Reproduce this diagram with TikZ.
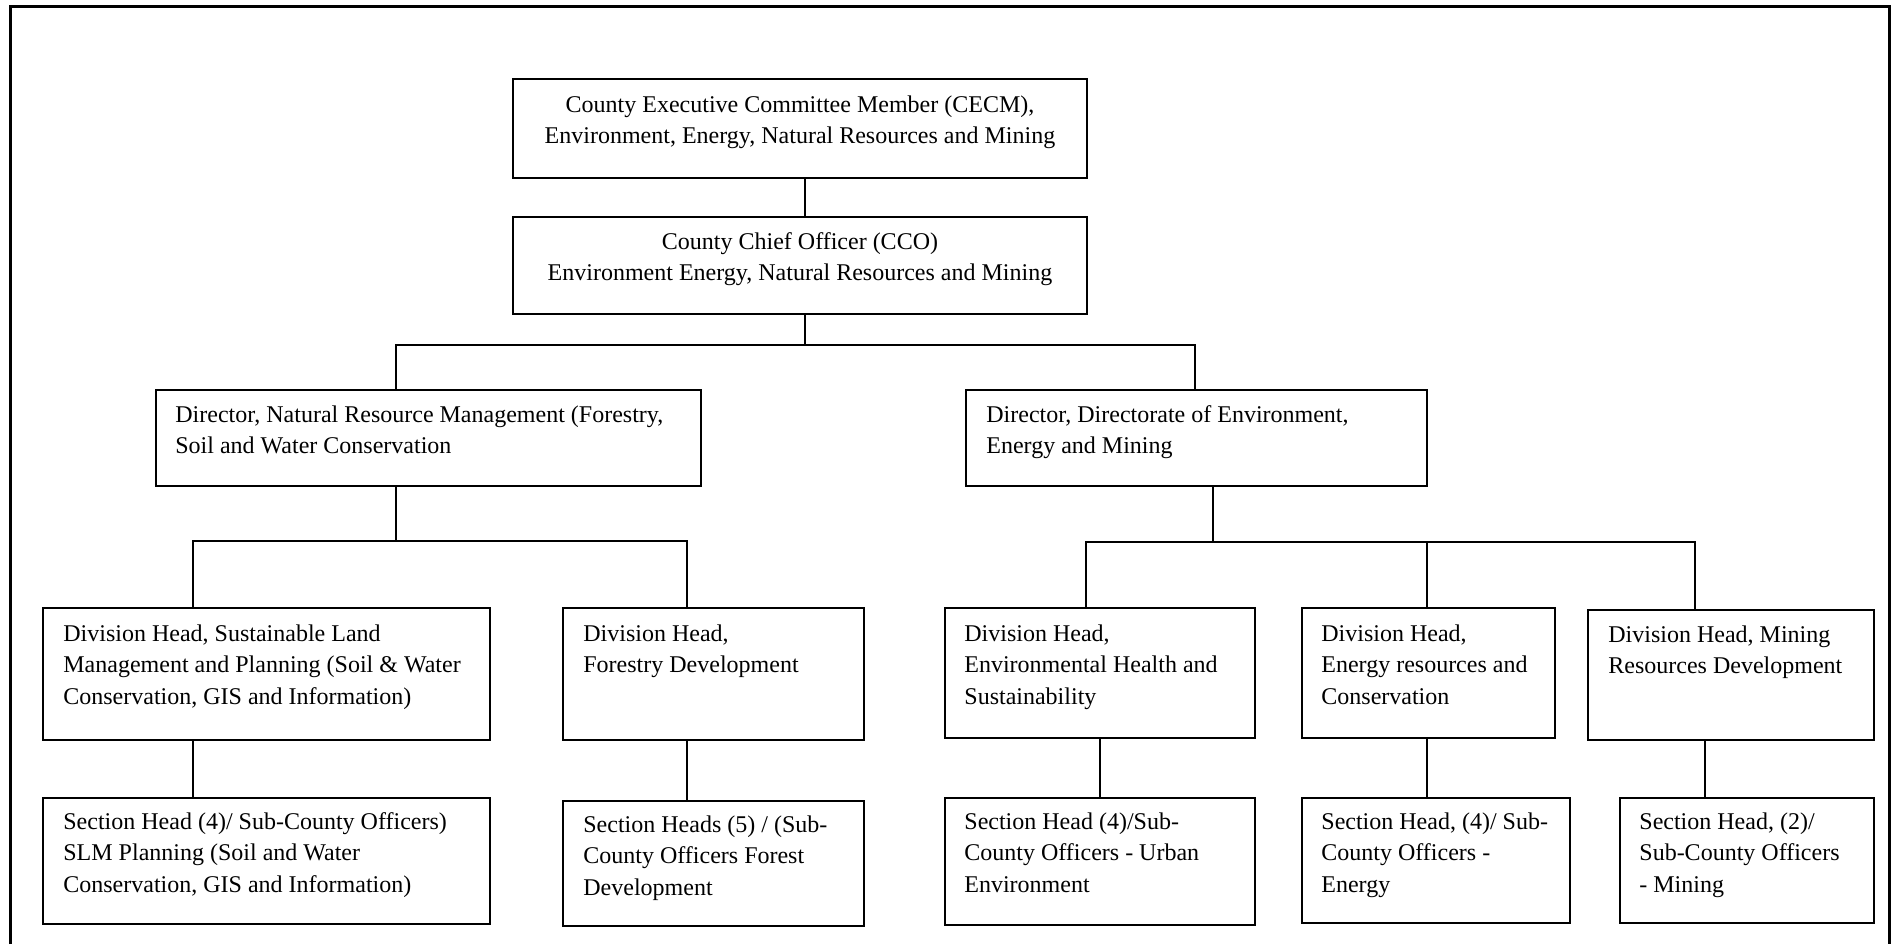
\documentclass[tikz,border=0pt]{standalone}
\usepackage{fontspec}
\setmainfont{Liberation Serif}
\usetikzlibrary{fit,calc}
\begin{document}
\begin{tikzpicture}[x=0.5pt,y=-0.5pt,
  bx/.style={draw, line width=1pt, inner sep=0pt, rectangle},
  conn/.style={line width=0.75pt},
  txt/.style={inner sep=0pt, font=\fontsize{12}{15.75}\selectfont},
  frame/.style={line width=1.5pt}]
\useasboundingbox (0,0) rectangle (1892,944);
% outer frame
\draw[frame] (10.5,944) -- (10.5,6.5) -- (1889.5,6.5) -- (1889.5,944);

% boxes
\node[bx, fit={(513,79) (1087,178)}] (cecm) {};
\node[bx, fit={(513,217) (1087,314)}] (cco) {};
\node[bx, fit={(156,390) (701,486)}] (nrm) {};
\node[bx, fit={(966,390) (1427,486)}] (envd) {};
\node[bx, fit={(43,608) (490,740)}] (slmd) {};
\node[bx, fit={(563,608) (864,740)}] (ford) {};
\node[bx, fit={(945,608) (1255,738)}] (ehd) {};
\node[bx, fit={(1302,608) (1555,738)}] (end) {};
\node[bx, fit={(1588,610) (1874,740)}] (mind) {};
\node[bx, fit={(43,798) (490,924)}] (slms) {};
\node[bx, fit={(563,801) (864,926)}] (fors) {};
\node[bx, fit={(945,798) (1255,925)}] (envs) {};
\node[bx, fit={(1302,798) (1570,923)}] (ens) {};
\node[bx, fit={(1620,798) (1874,923)}] (mins) {};

% texts
\node[txt, anchor=base] (cecm-t) at ($(cecm.north)+(0,34)$)
  {\begin{tabular}[t]{@{}c@{}}County Executive Committee Member (CECM),\\Environment, Energy, Natural Resources and Mining\end{tabular}};
\node[txt, anchor=base] (cco-t) at ($(cco.north)+(0,33)$)
  {\begin{tabular}[t]{@{}c@{}}County Chief Officer (CCO)\\Environment Energy, Natural Resources and Mining\end{tabular}};
\node[txt, anchor=base west] (nrm-t) at ($(nrm.north west)+(20,33)$)
  {\begin{tabular}[t]{@{}l@{}}Director, Natural Resource Management (Forestry,\\Soil and Water Conservation\end{tabular}};
\node[txt, anchor=base west] (envd-t) at ($(envd.north west)+(21,33)$)
  {\begin{tabular}[t]{@{}l@{}}Director, Directorate of Environment,\\Energy and Mining\end{tabular}};
\node[txt, anchor=base west] (slmd-t) at ($(slmd.north west)+(21,34)$)
  {\begin{tabular}[t]{@{}l@{}}Division Head, Sustainable Land\\Management and Planning (Soil \& Water\\Conservation, GIS and Information)\end{tabular}};
\node[txt, anchor=base west] (ford-t) at ($(ford.north west)+(21,34)$)
  {\begin{tabular}[t]{@{}l@{}}Division Head,\\Forestry Development\end{tabular}};
\node[txt, anchor=base west] (ehd-t) at ($(ehd.north west)+(20,34)$)
  {\begin{tabular}[t]{@{}l@{}}Division Head,\\Environmental Health and\\Sustainability\end{tabular}};
\node[txt, anchor=base west] (end-t) at ($(end.north west)+(20,34)$)
  {\begin{tabular}[t]{@{}l@{}}Division Head,\\Energy resources and\\Conservation\end{tabular}};
\node[txt, anchor=base west] (mind-t) at ($(mind.north west)+(21,33)$)
  {\begin{tabular}[t]{@{}l@{}}Division Head, Mining\\Resources Development\end{tabular}};
\node[txt, anchor=base west] (slms-t) at ($(slms.north west)+(21,32)$)
  {\begin{tabular}[t]{@{}l@{}}Section Head (4)/ Sub-County Officers)\\SLM Planning (Soil and Water\\Conservation, GIS and Information)\end{tabular}};
\node[txt, anchor=base west] (fors-t) at ($(fors.north west)+(21,32)$)
  {\begin{tabular}[t]{@{}l@{}}Section Heads (5) / (Sub-\\County Officers Forest\\Development\end{tabular}};
\node[txt, anchor=base west] (envs-t) at ($(envs.north west)+(20,32)$)
  {\begin{tabular}[t]{@{}l@{}}Section Head (4)/Sub-\\County Officers - Urban\\Environment\end{tabular}};
\node[txt, anchor=base west] (ens-t) at ($(ens.north west)+(20,32)$)
  {\begin{tabular}[t]{@{}l@{}}Section Head, (4)/ Sub-\\County Officers -\\Energy\end{tabular}};
\node[txt, anchor=base west] (mins-t) at ($(mins.north west)+(20,32)$)
  {\begin{tabular}[t]{@{}l@{}}Section Head, (2)/\\Sub-County Officers\\- Mining\end{tabular}};

% junction coordinates
\coordinate (bus1) at (805,345);
\coordinate (bus2) at (396,541);
\coordinate (bus3) at (1213,542);

% connectors
\draw[conn] (cecm.south -| bus1) -- (cco.north -| bus1);
\draw[conn] (cco.south -| bus1) -- (bus1);
\draw[conn] (nrm.north -| bus2) |- (bus1) -| (envd.north -| 1195,0);

\draw[conn] (nrm.south -| bus2) -- (bus2);
\draw[conn] (slmd.north -| 193,0) |- (bus2) -| (ford.north -| 687,0);

\draw[conn] (envd.south -| bus3) -- (bus3);
\draw[conn] (ehd.north -| 1086,0) |- (bus3) -| (mind.north -| 1695,0);
\draw[conn] (end.north -| 1427,0) -- (bus3 -| 1427,0);

\draw[conn] (slmd.south -| 193,0) -- (slms.north -| 193,0);
\draw[conn] (ford.south -| 687,0) -- (fors.north -| 687,0);
\draw[conn] (ehd.south -| 1100,0) -- (envs.north -| 1100,0);
\draw[conn] (end.south -| 1427,0) -- (ens.north -| 1427,0);
\draw[conn] (mind.south -| 1705,0) -- (mins.north -| 1705,0);
\end{tikzpicture}
\end{document}
